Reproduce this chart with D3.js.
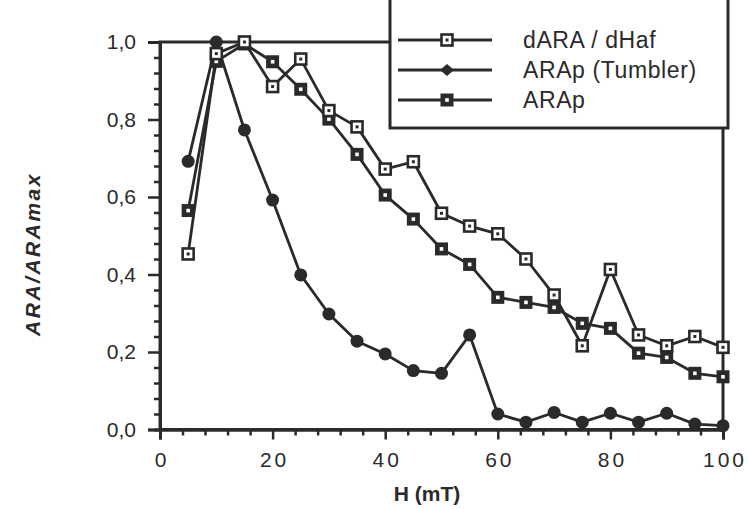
<!DOCTYPE html>
<html>
<head>
<meta charset="utf-8">
<script src="https://cdn.jsdelivr.net/npm/d3@7"></script>
<style>
  html, body { margin: 0; padding: 0; background: #fff; }
  svg { display: block; }
  text { font-family: "Liberation Sans", Arial, Helvetica, sans-serif; fill: #2a2a2a; }
</style>
</head>
<body>
<svg id="chart" width="748" height="509"></svg>
<script>
// ---- data ----
const hValues = [5, 10, 15, 20, 25, 30, 35, 40, 45, 50, 55, 60, 65, 70, 75, 80, 85, 90, 95, 100];
const dAraDHaf = [0.453, 0.97, 1.0, 0.885, 0.956, 0.823, 0.781, 0.672, 0.691, 0.558, 0.525, 0.505, 0.44, 0.347, 0.216, 0.413, 0.244, 0.216, 0.240, 0.212];
const araPTumbler = [0.692, 1.0, 0.773, 0.592, 0.399, 0.298, 0.228, 0.195, 0.152, 0.145, 0.244, 0.040, 0.019, 0.044, 0.019, 0.042, 0.019, 0.042, 0.014, 0.010];
const araP = [0.565, 0.95, 0.995, 0.949, 0.878, 0.801, 0.710, 0.605, 0.543, 0.466, 0.426, 0.341, 0.328, 0.315, 0.274, 0.261, 0.197, 0.186, 0.145, 0.136];
const seriesNames = ["dARA / dHaf", "ARAp (Tumbler)", "ARAp"];
const xTicks = [0, 20, 40, 60, 80, 100];
const yTicks = [0, 0.2, 0.4, 0.6, 0.8, 1.0];
const xTitle = "H (mT)";
const yTitle = "ARA/ARAmax";

// ---- layout ----
const ink = "#2a2a2a";
const svg = d3.select("#chart");
const x = d3.scaleLinear().domain([0, 100]).range([160, 723]);
const y = d3.scaleLinear().domain([0, 1]).range([429.5, 42]);

const xMinor = d3.range(0, 100.001, 4).filter(v => !xTicks.includes(v));
const yMinor = d3.range(0, 1.0001, 0.04).map(v => +v.toFixed(2)).filter(v => !yTicks.some(t => Math.abs(t - v) < 1e-6));

// frame (top + right)
svg.append("rect")
  .attr("x", x(0)).attr("y", y(1))
  .attr("width", x(100) - x(0)).attr("height", y(0) - y(1))
  .attr("fill", "none").attr("stroke", ink).attr("stroke-width", 3);

// axes
const fmtY = v => d3.format(".1f")(v).replace(".", ",");
const gx = svg.append("g").attr("transform", `translate(0,${y(0)})`)
  .call(d3.axisBottom(x).tickValues(xTicks).tickSize(10).tickPadding(13).tickFormat(d3.format("d")));
const gxm = svg.append("g").attr("transform", `translate(0,${y(0)})`)
  .call(d3.axisBottom(x).tickValues(xMinor).tickSize(6).tickFormat(""));
const gy = svg.append("g").attr("transform", `translate(${x(0)},0)`)
  .call(d3.axisLeft(y).tickValues(yTicks).tickSize(12).tickPadding(12).tickFormat(fmtY));
const gym = svg.append("g").attr("transform", `translate(${x(0)},0)`)
  .call(d3.axisLeft(y).tickValues(yMinor).tickSize(6).tickFormat(""));

[gx, gxm, gy, gym].forEach(g => {
  g.select(".domain").attr("stroke", ink).attr("stroke-width", 3);
  g.selectAll(".tick line").attr("stroke", ink).attr("stroke-width", 2.5);
});
gx.selectAll("text").attr("font-size", 21).attr("letter-spacing", 3).attr("fill", ink)
  .attr("dx", 1.5);
gy.selectAll("text").attr("font-size", 21).attr("fill", ink);

// axis titles
svg.append("text").attr("x", 427).attr("y", 501).attr("text-anchor", "middle")
  .attr("font-size", 21).attr("font-weight", "bold").text(xTitle);
svg.append("text").attr("transform", "translate(40,254) rotate(-90)").attr("text-anchor", "middle")
  .attr("font-size", 21).attr("font-weight", "bold").attr("font-style", "italic")
  .attr("letter-spacing", 2.5).text(yTitle);

// ---- series ----
const line = d3.line().x(d => x(d[0])).y(d => y(d[1]));
const toPts = vals => hValues.map((h, i) => [h, vals[i]]);

function drawLine(vals) {
  svg.append("path").datum(toPts(vals)).attr("d", line)
    .attr("fill", "none").attr("stroke", ink).attr("stroke-width", 2.8)
    .attr("stroke-linejoin", "round");
}
function hollowSquare(g, cx, cy) {
  g.append("rect").attr("x", cx - 5.5).attr("y", cy - 5.5).attr("width", 11).attr("height", 11)
    .attr("fill", "#fff").attr("stroke", ink).attr("stroke-width", 2.6);
  g.append("rect").attr("x", cx - 1.5).attr("y", cy - 1.5).attr("width", 3).attr("height", 3).attr("fill", ink);
}
function filledSquare(g, cx, cy) {
  g.append("rect").attr("x", cx - 6.5).attr("y", cy - 6.5).attr("width", 13).attr("height", 13).attr("fill", ink);
  g.append("rect").attr("x", cx - 1.8).attr("y", cy - 1.8).attr("width", 3.6).attr("height", 3.6).attr("fill", "#fff");
}
function dot(g, cx, cy) {
  g.append("circle").attr("cx", cx).attr("cy", cy).attr("r", 6.5).attr("fill", ink);
}

drawLine(araPTumbler);
drawLine(araP);
drawLine(dAraDHaf);
const mk = svg.append("g");
toPts(araPTumbler).forEach(d => dot(mk, x(d[0]), y(d[1])));
toPts(araP).forEach(d => filledSquare(mk, x(d[0]), y(d[1])));
toPts(dAraDHaf).forEach(d => hollowSquare(mk, x(d[0]), y(d[1])));

// ---- legend ----
const lg = svg.append("g");
lg.append("rect").attr("x", 390).attr("y", -5).attr("width", 338).attr("height", 133)
  .attr("fill", "#fff").attr("stroke", ink).attr("stroke-width", 3);
const rowsY = [40, 70, 100];
const markers = [hollowSquare, (g, cx, cy) => {
  g.append("path").attr("transform", `translate(${cx},${cy})`)
    .attr("d", "M-7,0 L0,-6 L7,0 L0,6 Z").attr("fill", ink);
}, filledSquare];
seriesNames.forEach((name, i) => {
  const ry = rowsY[i];
  lg.append("line").attr("x1", 398).attr("x2", 492).attr("y1", ry).attr("y2", ry)
    .attr("stroke", ink).attr("stroke-width", 2.8);
  markers[i](lg, 447, ry);
  lg.append("text").attr("x", 523).attr("y", ry + 8).attr("font-size", 23)
    .attr("letter-spacing", 0.6).text(name);
});
</script>
</body>
</html>
